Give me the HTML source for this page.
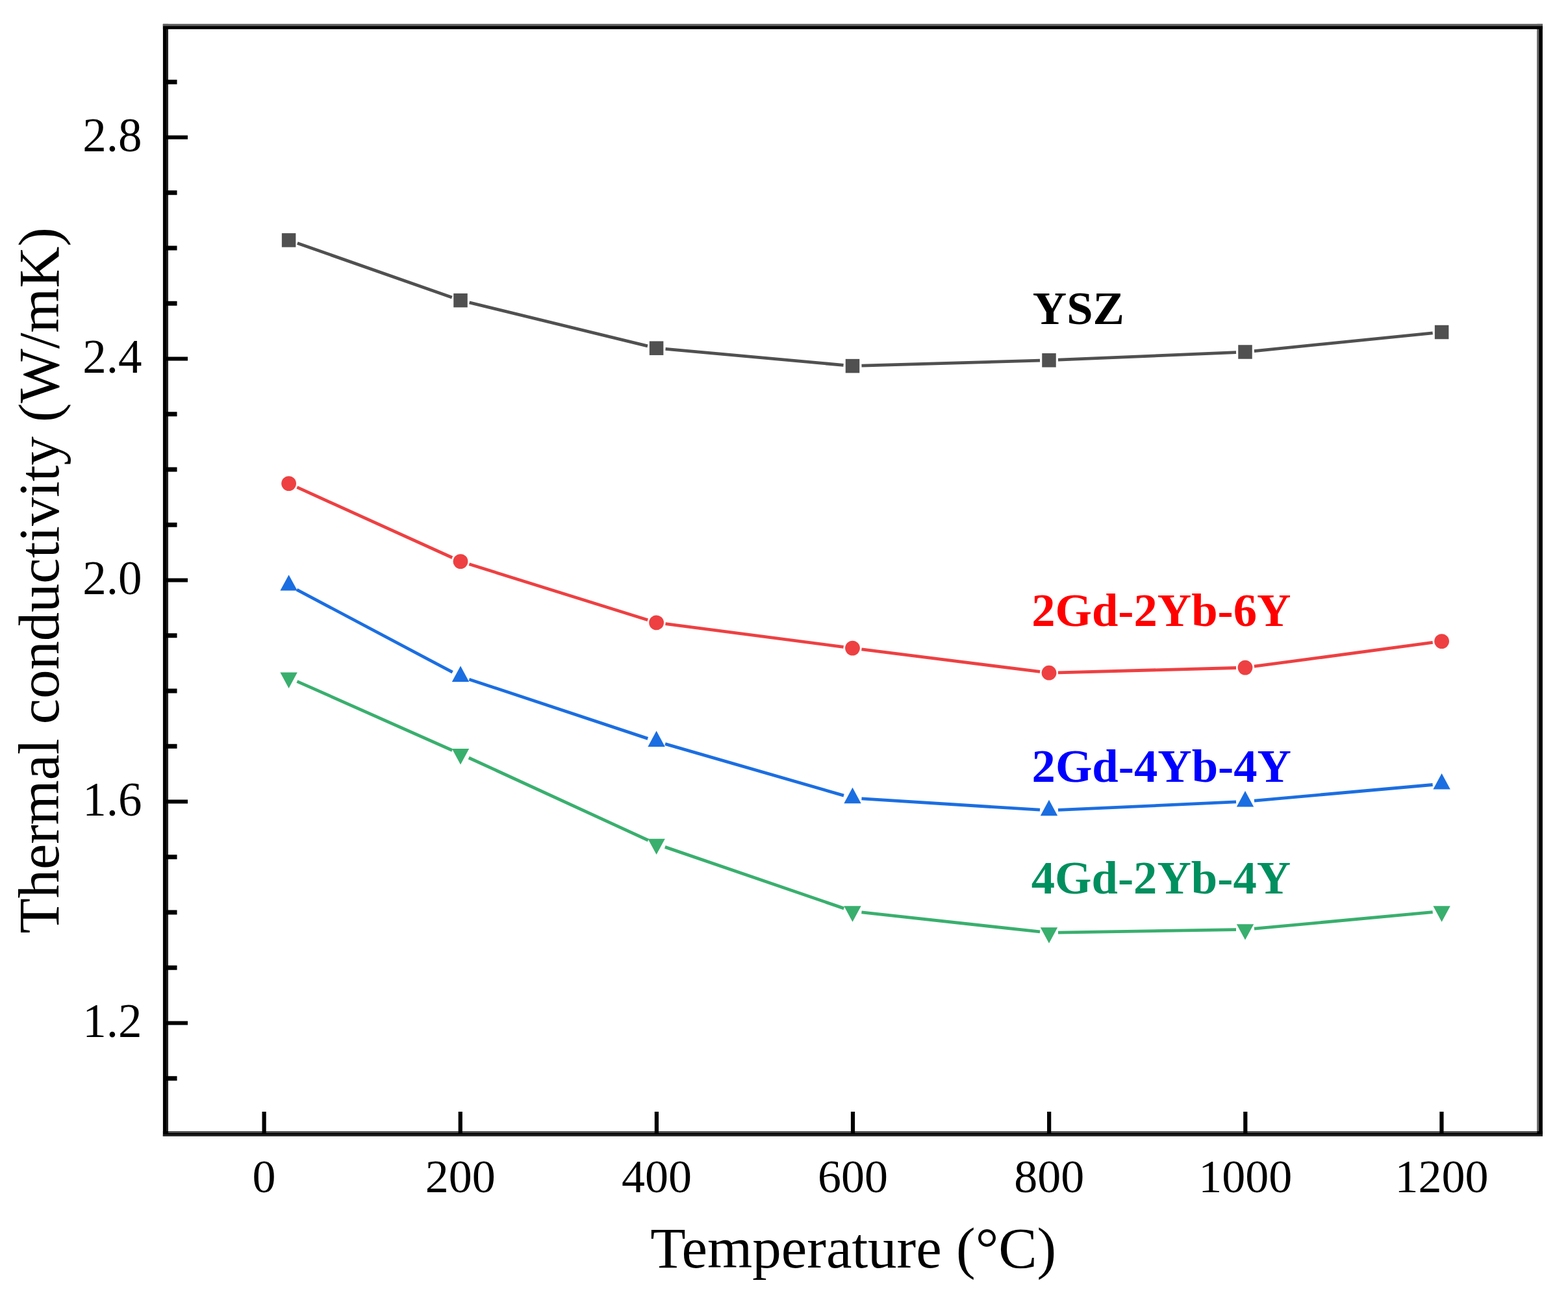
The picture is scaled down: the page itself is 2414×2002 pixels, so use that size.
<!DOCTYPE html>
<html lang="en">
<head>
<meta charset="utf-8">
<title>Thermal conductivity vs Temperature</title>
<style>
html, body { margin: 0; padding: 0; background: #ffffff; }
body { width: 2414px; height: 2002px; overflow: hidden; }
svg { display: block; }
text { white-space: pre; }
</style>
</head>
<body>
<svg width="2414" height="2002" viewBox="0 0 2414 2002">
<rect x="0" y="0" width="2414" height="2002" fill="#ffffff"/>
<g fill="none">
<line x1="457.81" y1="374.53" x2="695.79" y2="457.97" stroke="#505050" stroke-width="4.80"/>
<line x1="722.60" y1="465.92" x2="997.00" y2="532.88" stroke="#505050" stroke-width="4.80"/>
<line x1="1024.54" y1="537.47" x2="1298.56" y2="562.33" stroke="#505050" stroke-width="4.80"/>
<line x1="1326.49" y1="563.19" x2="1601.01" y2="555.21" stroke="#505050" stroke-width="4.80"/>
<line x1="1628.99" y1="554.21" x2="1903.01" y2="542.59" stroke="#505050" stroke-width="4.80"/>
<line x1="1930.93" y1="540.60" x2="2205.67" y2="512.90" stroke="#505050" stroke-width="4.80"/>
<line x1="457.35" y1="750.39" x2="696.25" y2="858.81" stroke="#ee4042" stroke-width="4.80"/>
<line x1="722.36" y1="868.78" x2="997.24" y2="954.72" stroke="#ee4042" stroke-width="4.80"/>
<line x1="1024.48" y1="960.70" x2="1298.62" y2="996.30" stroke="#ee4042" stroke-width="4.80"/>
<line x1="1326.39" y1="999.85" x2="1601.11" y2="1034.45" stroke="#ee4042" stroke-width="4.80"/>
<line x1="1628.99" y1="1035.82" x2="1903.01" y2="1028.48" stroke="#ee4042" stroke-width="4.80"/>
<line x1="1930.88" y1="1026.24" x2="2205.72" y2="989.46" stroke="#ee4042" stroke-width="4.80"/>
<line x1="456.97" y1="908.03" x2="696.63" y2="1035.20" stroke="#1b6ee1" stroke-width="4.80"/>
<line x1="722.29" y1="1046.17" x2="997.31" y2="1137.36" stroke="#1b6ee1" stroke-width="4.80"/>
<line x1="1024.05" y1="1145.66" x2="1299.05" y2="1225.18" stroke="#1b6ee1" stroke-width="4.80"/>
<line x1="1326.47" y1="1229.94" x2="1601.03" y2="1247.19" stroke="#1b6ee1" stroke-width="4.80"/>
<line x1="1628.99" y1="1247.43" x2="1903.01" y2="1234.91" stroke="#1b6ee1" stroke-width="4.80"/>
<line x1="1930.94" y1="1233.02" x2="2205.66" y2="1208.51" stroke="#1b6ee1" stroke-width="4.80"/>
<line x1="457.39" y1="1049.32" x2="696.21" y2="1155.45" stroke="#39af6e" stroke-width="4.80"/>
<line x1="721.72" y1="1166.98" x2="997.88" y2="1293.98" stroke="#39af6e" stroke-width="4.80"/>
<line x1="1023.84" y1="1304.38" x2="1299.26" y2="1398.89" stroke="#39af6e" stroke-width="4.80"/>
<line x1="1326.42" y1="1404.95" x2="1601.08" y2="1434.92" stroke="#39af6e" stroke-width="4.80"/>
<line x1="1629.00" y1="1436.20" x2="1903.00" y2="1431.57" stroke="#39af6e" stroke-width="4.80"/>
<line x1="1930.94" y1="1430.05" x2="2205.66" y2="1404.72" stroke="#39af6e" stroke-width="4.80"/>
</g>
<rect x="433.85" y="359.15" width="21.50" height="21.50" fill="#505050"/>
<rect x="698.25" y="451.85" width="21.50" height="21.50" fill="#505050"/>
<rect x="999.85" y="525.45" width="21.50" height="21.50" fill="#505050"/>
<rect x="1301.75" y="552.85" width="21.50" height="21.50" fill="#505050"/>
<rect x="1604.25" y="544.05" width="21.50" height="21.50" fill="#505050"/>
<rect x="1906.25" y="531.25" width="21.50" height="21.50" fill="#505050"/>
<rect x="2208.85" y="500.75" width="21.50" height="21.50" fill="#505050"/>
<circle cx="444.60" cy="744.60" r="11.40" fill="#ee4042"/>
<circle cx="709.00" cy="864.60" r="11.40" fill="#ee4042"/>
<circle cx="1010.60" cy="958.90" r="11.40" fill="#ee4042"/>
<circle cx="1312.50" cy="998.10" r="11.40" fill="#ee4042"/>
<circle cx="1615.00" cy="1036.20" r="11.40" fill="#ee4042"/>
<circle cx="1917.00" cy="1028.10" r="11.40" fill="#ee4042"/>
<circle cx="2219.60" cy="987.60" r="11.40" fill="#ee4042"/>
<polygon points="444.60,885.20 457.80,909.60 431.40,909.60" fill="#1b6ee1"/>
<polygon points="709.00,1025.50 722.20,1049.90 695.80,1049.90" fill="#1b6ee1"/>
<polygon points="1010.60,1125.50 1023.80,1149.90 997.40,1149.90" fill="#1b6ee1"/>
<polygon points="1312.50,1212.80 1325.70,1237.20 1299.30,1237.20" fill="#1b6ee1"/>
<polygon points="1615.00,1231.80 1628.20,1256.20 1601.80,1256.20" fill="#1b6ee1"/>
<polygon points="1917.00,1218.00 1930.20,1242.40 1903.80,1242.40" fill="#1b6ee1"/>
<polygon points="2219.60,1191.00 2232.80,1215.40 2206.40,1215.40" fill="#1b6ee1"/>
<polygon points="431.40,1035.50 457.80,1035.50 444.60,1059.90" fill="#39af6e"/>
<polygon points="695.80,1153.00 722.20,1153.00 709.00,1177.40" fill="#39af6e"/>
<polygon points="997.40,1291.70 1023.80,1291.70 1010.60,1316.10" fill="#39af6e"/>
<polygon points="1299.30,1395.30 1325.70,1395.30 1312.50,1419.70" fill="#39af6e"/>
<polygon points="1601.80,1428.30 1628.20,1428.30 1615.00,1452.70" fill="#39af6e"/>
<polygon points="1903.80,1423.20 1930.20,1423.20 1917.00,1447.60" fill="#39af6e"/>
<polygon points="2206.40,1395.30 2232.80,1395.30 2219.60,1419.70" fill="#39af6e"/>
<g><rect x="250.90" y="36.90" width="2124.00" height="8.10" fill="#000"/>
<rect x="250.90" y="1742.00" width="2124.00" height="7.90" fill="#000"/>
<rect x="250.90" y="36.90" width="8.10" height="1713.00" fill="#000"/>
<rect x="2366.50" y="36.90" width="8.40" height="1713.00" fill="#000"/>
<rect x="250.90" y="36.90" width="2124.00" height="3.30" fill="#5e5e5e"/>
<rect x="256.10" y="45.00" width="2.90" height="1697.00" fill="#222222"/>
<rect x="2366.50" y="45.00" width="2.80" height="1697.00" fill="#6a6a6a"/>
<rect x="259.00" y="1742.00" width="2107.50" height="2.90" fill="#4e4e4e"/>
<rect x="250.90" y="1747.20" width="2124.00" height="2.70" fill="#2a2a2a"/></g>
<g stroke="#000" fill="none"><line x1="255.00" y1="1660.75" x2="272.50" y2="1660.75" stroke-width="7.00"/>
<line x1="255.00" y1="1575.50" x2="289.00" y2="1575.50" stroke-width="6.20"/>
<line x1="255.00" y1="1490.25" x2="272.50" y2="1490.25" stroke-width="7.00"/>
<line x1="255.00" y1="1405.00" x2="272.50" y2="1405.00" stroke-width="7.00"/>
<line x1="255.00" y1="1319.75" x2="272.50" y2="1319.75" stroke-width="7.00"/>
<line x1="255.00" y1="1234.50" x2="289.00" y2="1234.50" stroke-width="6.20"/>
<line x1="255.00" y1="1149.25" x2="272.50" y2="1149.25" stroke-width="7.00"/>
<line x1="255.00" y1="1064.00" x2="272.50" y2="1064.00" stroke-width="7.00"/>
<line x1="255.00" y1="978.75" x2="272.50" y2="978.75" stroke-width="7.00"/>
<line x1="255.00" y1="893.50" x2="289.00" y2="893.50" stroke-width="6.20"/>
<line x1="255.00" y1="808.25" x2="272.50" y2="808.25" stroke-width="7.00"/>
<line x1="255.00" y1="723.00" x2="272.50" y2="723.00" stroke-width="7.00"/>
<line x1="255.00" y1="637.75" x2="272.50" y2="637.75" stroke-width="7.00"/>
<line x1="255.00" y1="552.50" x2="289.00" y2="552.50" stroke-width="6.20"/>
<line x1="255.00" y1="467.25" x2="272.50" y2="467.25" stroke-width="7.00"/>
<line x1="255.00" y1="382.00" x2="272.50" y2="382.00" stroke-width="7.00"/>
<line x1="255.00" y1="296.75" x2="272.50" y2="296.75" stroke-width="7.00"/>
<line x1="255.00" y1="211.50" x2="289.00" y2="211.50" stroke-width="6.20"/>
<line x1="255.00" y1="126.25" x2="272.50" y2="126.25" stroke-width="7.00"/>
<line x1="406.60" y1="1746.00" x2="406.60" y2="1712.00" stroke-width="6.20"/>
<line x1="708.74" y1="1746.00" x2="708.74" y2="1712.00" stroke-width="6.20"/>
<line x1="1010.88" y1="1746.00" x2="1010.88" y2="1712.00" stroke-width="6.20"/>
<line x1="1313.02" y1="1746.00" x2="1313.02" y2="1712.00" stroke-width="6.20"/>
<line x1="1615.16" y1="1746.00" x2="1615.16" y2="1712.00" stroke-width="6.20"/>
<line x1="1917.30" y1="1746.00" x2="1917.30" y2="1712.00" stroke-width="6.20"/>
<line x1="2219.44" y1="1746.00" x2="2219.44" y2="1712.00" stroke-width="6.20"/></g>
<g font-family="'Liberation Serif', serif" font-size="73.00" fill="#000">
<text id="yt1_2" x="218.60" y="1597.10" text-anchor="end">1.2</text>
<text id="yt1_6" x="218.60" y="1256.10" text-anchor="end">1.6</text>
<text id="yt2_0" x="218.60" y="915.10" text-anchor="end">2.0</text>
<text id="yt2_4" x="218.60" y="574.10" text-anchor="end">2.4</text>
<text id="yt2_8" x="218.60" y="233.10" text-anchor="end">2.8</text>
<text id="xt0" x="406.60" y="1836.40" font-size="72" text-anchor="middle">0</text>
<text id="xt200" x="708.74" y="1836.40" font-size="72" text-anchor="middle">200</text>
<text id="xt400" x="1010.88" y="1836.40" font-size="72" text-anchor="middle">400</text>
<text id="xt600" x="1313.02" y="1836.40" font-size="72" text-anchor="middle">600</text>
<text id="xt800" x="1615.16" y="1836.40" font-size="72" text-anchor="middle">800</text>
<text id="xt1000" x="1917.30" y="1836.40" font-size="72" text-anchor="middle">1000</text>
<text id="xt1200" x="2219.44" y="1836.40" font-size="72" text-anchor="middle">1200</text>
</g>
<g font-family="'Liberation Serif', serif" font-size="89.00" fill="#000">
<text id="xtitle" x="1313.80" y="1952.00" text-anchor="middle">Temperature (°C)</text>
<text id="ytitle" font-size="88.6" transform="translate(89.80 893.70) rotate(-90)" text-anchor="middle">Thermal conductivity (W/mK)</text>
</g>
<g font-family="'Liberation Serif', serif" font-size="72.60" font-weight="bold">
<text id="l1" x="1589.80" y="499.00" fill="#000000">YSZ</text>
<text id="l2" x="1588.20" y="963.70" fill="#ff0000">2Gd-2Yb-6Y</text>
<text id="l3" x="1588.60" y="1204.20" fill="#0000ff">2Gd-4Yb-4Y</text>
<text id="l4" x="1587.80" y="1376.00" fill="#008f5f">4Gd-2Yb-4Y</text>
</g>
</svg>
</body>
</html>
